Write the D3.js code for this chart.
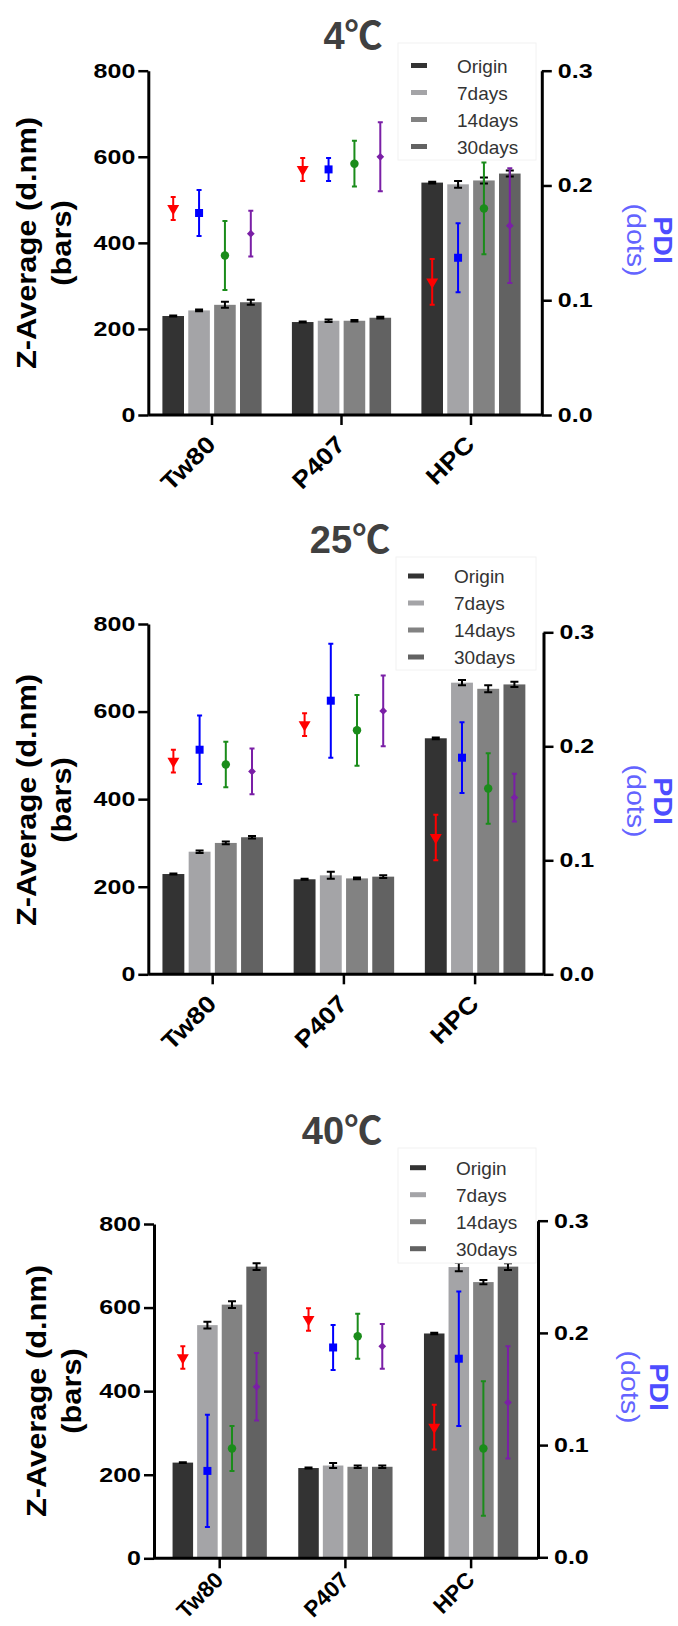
<!DOCTYPE html>
<html><head><meta charset="utf-8">
<script src="https://cdn.jsdelivr.net/npm/d3@7"></script>
<style>
html,body{margin:0;padding:0;background:#fff;}
svg{display:block;}
</style>
</head><body>
<svg id="chart" width="678" height="1626"></svg>
<script>
// ---------------- DATA ----------------
const categories = ["Tw80", "P407", "HPC"];
const seriesNames = ["Origin", "7days", "14days", "30days"];
const panelTitles = ["4℃", "25℃", "40℃"];
const zTicks = [0, 200, 400, 600, 800];
const pdiTicks = [0, 0.1, 0.2, 0.3];

// Z-Average (d.nm) bars: [category][series]
const zAvg4  = [[230, 243, 256, 262], [216, 219, 219, 226], [540, 536, 545, 561]];
const zErr4  = [[1, 2, 7, 6], [1, 3, 2, 2], [2, 8, 7, 7]];
const zAvg25 = [[229, 280, 300, 313], [217, 226, 219, 223], [539, 666, 652, 662]];
const zErr25 = [[1, 3, 3, 3], [1, 8, 2, 3], [2, 6, 8, 6]];
const zAvg40 = [[229, 558, 607, 698], [216, 222, 219, 219], [538, 697, 661, 698]];
const zErr40 = [[1, 8, 8, 8], [1, 6, 3, 3], [2, 10, 5, 8]];

// PDI dots: [category][series]
const pdi4     = [[0.180, 0.176, 0.139, 0.158], [0.214, 0.214, 0.219, 0.225], [0.116, 0.137, 0.180, 0.165]];
const pdiErr4  = [[0.010, 0.020, 0.030, 0.020], [0.010, 0.010, 0.020, 0.030], [0.020, 0.030, 0.040, 0.050]];
const pdi25    = [[0.187, 0.197, 0.184, 0.178], [0.219, 0.240, 0.214, 0.231], [0.120, 0.190, 0.163, 0.155]];
const pdiErr25 = [[0.010, 0.030, 0.020, 0.020], [0.010, 0.050, 0.031, 0.031], [0.020, 0.031, 0.031, 0.021]];
const pdi40    = [[0.178, 0.077, 0.097, 0.152], [0.212, 0.187, 0.197, 0.188], [0.116, 0.177, 0.097, 0.138]];
const pdiErr40 = [[0.010, 0.050, 0.020, 0.030], [0.010, 0.020, 0.020, 0.020], [0.020, 0.060, 0.060, 0.050]];

// ---------------- STYLE / LAYOUT ----------------
const FONT = "'Liberation Sans', Arial, Helvetica, 'Noto Sans CJK SC', sans-serif";
const barColors = ["#333333", "#a4a4a7", "#828282", "#626262"];
const dotColors = ["#ff0000", "#0000ff", "#1a8c1a", "#7a1fa6"];

const layouts = [
  {titleX: 353, titleY: 35, yTop: 70.7, yBot: 415, yRTop: 70.7, yRBot: 415,
   axL: 148.3, axR: 541.8, band: [147.25, 535.75], padIn: 0.234, padOut: 0.117,
   legX: 411, legTextX: 457, legY: 65.5, box: [398, 43, 138, 117],
   yLab1: 36, yLab2: 71, yLabCY: 243, pLab1: 654, pLab2: 627, pLabCY: 240,
   catFont: 24, catStretch: 1.12, catDx: 5, catDy: 31},
  {titleX: 350, titleY: 539, yTop: 624, yBot: 974.3, yRTop: 632.3, yRBot: 974.3,
   axL: 148.3, axR: 543.5, band: [147.1, 540.7], padIn: 0.234, padOut: 0.117,
   legX: 408, legTextX: 454, legY: 576, box: [396, 557, 140, 113],
   yLab1: 36, yLab2: 71, yLabCY: 800, pLab1: 654, pLab2: 627, pLabCY: 801,
   catFont: 24, catStretch: 1.12, catDx: 5, catDy: 31},
  {titleX: 342, titleY: 1130, yTop: 1224, yBot: 1558.3, yRTop: 1220.7, yRBot: 1557.3,
   axL: 154, axR: 538, band: [156.85, 533.95], padIn: 0.25, padOut: 0.125,
   legX: 410, legTextX: 456, legY: 1167.7, box: [398, 1148, 138, 115],
   yLab1: 46, yLab2: 81, yLabCY: 1391, pLab1: 650, pLab2: 621, pLabCY: 1387,
   catFont: 22.5, catStretch: 1.0, catDx: 5, catDy: 23}
];

const panels = [
  {title: panelTitles[0], z: zAvg4,  ze: zErr4,  d: pdi4,  de: pdiErr4},
  {title: panelTitles[1], z: zAvg25, ze: zErr25, d: pdi25, de: pdiErr25},
  {title: panelTitles[2], z: zAvg40, ze: zErr40, d: pdi40, de: pdiErr40}
];

const svg = d3.select("#chart");
svg.append("rect").attr("width", 678).attr("height", 1626).attr("fill", "#fff");

const shapeFor = [
  {type: d3.symbolTriangle, size: 62, rot: 180},
  {type: d3.symbolSquare, size: 64, rot: 0},
  {type: d3.symbolCircle, size: 56, rot: 0},
  {type: d3.symbolSquare, size: 30, rot: 45}
];

function stretch(sel, f) {
  sel.each(function () {
    const l = this.getComputedTextLength();
    d3.select(this).attr("textLength", l * f).attr("lengthAdjust", "spacingAndGlyphs");
  });
}

panels.forEach((p, pi) => drawPanel(p, layouts[pi]));

function drawPanel(p, L) {
  const g = svg.append("g").attr("font-family", FONT);
  const yL = d3.scaleLinear().domain([0, 800]).range([L.yBot, L.yTop]);
  const yR = d3.scaleLinear().domain([0, 0.3]).range([L.yRBot, L.yRTop]);
  const x0 = d3.scaleBand().domain(categories).range(L.band)
    .paddingInner(L.padIn).paddingOuter(L.padOut);
  const x1 = d3.scaleBand().domain(seriesNames).range([0, x0.bandwidth()]).paddingInner(0.165);

  const rows = [];
  categories.forEach((c, ci) => seriesNames.forEach((s, si) => {
    rows.push({c, s, ci, si, z: p.z[ci][si], ze: p.ze[ci][si], d: p.d[ci][si], de: p.de[ci][si]});
  }));
  const cx = r => x0(r.c) + x1(r.s) + x1.bandwidth() / 2;

  // bars
  g.append("g").selectAll("rect").data(rows).join("rect")
    .attr("x", r => x0(r.c) + x1(r.s))
    .attr("width", x1.bandwidth())
    .attr("y", r => yL(r.z))
    .attr("height", r => yL(0) - yL(r.z))
    .attr("fill", r => barColors[r.si]);

  // bar error bars
  const cw = 4;
  g.append("g").selectAll("path").data(rows).join("path")
    .attr("d", r => {
      const x = cx(r), t = yL(r.z + r.ze), b = yL(r.z - r.ze);
      return `M${x},${t}V${b}M${x - cw},${t}H${x + cw}M${x - cw},${b}H${x + cw}`;
    })
    .attr("stroke", "#000").attr("stroke-width", 2).attr("fill", "none");

  // axes
  const axL = g.append("g").attr("transform", `translate(${L.axL},0)`)
    .call(d3.axisLeft(yL).tickValues(zTicks).tickSize(10).tickSizeOuter(0).tickPadding(3));
  const axR = g.append("g").attr("transform", `translate(${L.axR},0)`)
    .call(d3.axisRight(yR).tickValues(pdiTicks).tickFormat(d3.format(".1f"))
      .tickSize(10).tickSizeOuter(0).tickPadding(6));
  const axB = g.append("g").attr("transform", `translate(0,${L.yBot})`)
    .call(d3.axisBottom(x0).tickSize(10).tickSizeOuter(0).tickPadding(0));
  axB.select(".domain").remove();
  g.append("line").attr("x1", L.axL).attr("x2", L.axR).attr("y1", L.yBot).attr("y2", L.yBot)
    .attr("stroke", "#000").attr("stroke-width", 3);

  [axL, axR, axB].forEach(a => {
    a.selectAll(".domain").attr("stroke", "#000").attr("stroke-width", 3);
    a.selectAll(".tick line").attr("stroke", "#000").attr("stroke-width", 2.5);
    a.selectAll("text").attr("font-family", FONT).attr("font-weight", "bold")
      .attr("font-size", 20).attr("fill", "#000");
  });
  stretch(axL.selectAll("text"), 1.25);
  stretch(axR.selectAll("text"), 1.25);
  axB.selectAll("text")
    .attr("x", 0).attr("y", 0).attr("dy", 0)
    .attr("font-size", L.catFont)
    .attr("text-anchor", "end")
    .attr("transform", `translate(${L.catDx},${L.catDy}) rotate(-45)`);
  stretch(axB.selectAll("text"), L.catStretch);

  // PDI error bars + markers
  const dw = 2.5;
  g.append("g").selectAll("path").data(rows).join("path")
    .attr("d", r => {
      const x = cx(r), t = yR(r.d + r.de), b = yR(r.d - r.de);
      return `M${x},${t}V${b}M${x - dw},${t}H${x + dw}M${x - dw},${b}H${x + dw}`;
    })
    .attr("stroke", r => dotColors[r.si]).attr("stroke-width", 2).attr("fill", "none");
  g.append("g").selectAll("path").data(rows).join("path")
    .attr("d", r => d3.symbol().type(shapeFor[r.si].type).size(shapeFor[r.si].size)())
    .attr("transform", r => `translate(${cx(r)},${yR(r.d)}) rotate(${shapeFor[r.si].rot})`)
    .attr("fill", r => dotColors[r.si]);

  // title
  g.append("text").attr("x", L.titleX).attr("y", L.titleY + 14)
    .attr("text-anchor", "middle").attr("font-size", 38).attr("font-weight", "bold")
    .attr("fill", "#404040").text(p.title);

  // left y title
  const yt1 = g.append("text").attr("transform", `translate(${L.yLab1},${L.yLabCY}) rotate(-90)`)
    .attr("text-anchor", "middle").attr("font-size", 28).attr("font-weight", "bold")
    .attr("fill", "#000").text("Z-Average (d.nm)");
  const yt2 = g.append("text").attr("transform", `translate(${L.yLab2},${L.yLabCY}) rotate(-90)`)
    .attr("text-anchor", "middle").attr("font-size", 28).attr("font-weight", "bold")
    .attr("fill", "#000").text("(bars)");
  stretch(yt1, 1.1);
  stretch(yt2, 1.1);

  // right y title
  const pt1 = g.append("text").attr("transform", `translate(${L.pLab1},${L.pLabCY}) rotate(90)`)
    .attr("text-anchor", "middle").attr("font-size", 26).attr("font-weight", "bold")
    .attr("fill", "#4d4dff").text("PDI");
  const pt2 = g.append("text").attr("transform", `translate(${L.pLab2},${L.pLabCY}) rotate(90)`)
    .attr("text-anchor", "middle").attr("font-size", 26)
    .attr("fill", "#6464ff").text("(dots)");
  stretch(pt1, 1.1);
  stretch(pt2, 1.1);

  // legend
  const lg = g.append("g");
  lg.append("rect").attr("x", L.box[0]).attr("y", L.box[1]).attr("width", L.box[2]).attr("height", L.box[3])
    .attr("fill", "#fff").attr("stroke", "#f2f2f2").attr("stroke-width", 1);
  const items = lg.selectAll("g.item").data(seriesNames).join("g")
    .attr("transform", (s, i) => `translate(0,${L.legY + i * 27})`);
  items.append("rect").attr("x", L.legX).attr("y", -2.5).attr("width", 16).attr("height", 5)
    .attr("fill", (s, i) => barColors[i]);
  items.append("text").attr("x", L.legTextX).attr("y", 7).attr("font-size", 19)
    .attr("fill", "#333").text(s => s);
}
</script>
</body></html>
